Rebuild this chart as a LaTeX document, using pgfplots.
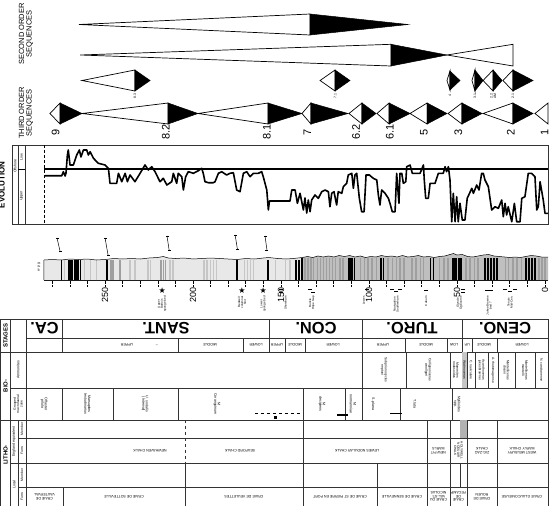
\documentclass[border=0pt]{standalone}
\usepackage{pgfplots}
\pgfplotsset{compat=1.18}
\usepackage{fontspec}
\setmainfont{Liberation Sans}
\newfontfamily\dejavu{DejaVu Sans}
\usetikzlibrary{plotmarks}
\newcommand\fs[1]{\fontsize{#1}{#1}\selectfont}
\pgfplotsset{
  strip/.style={scale only axis, width=504bp, xmin=-1.7, xmax=284.7, x dir=reverse,
    anchor=north west, clip=false},
  opentri/.style={draw=black, fill=white, line width=0.7bp, mark=none},
  filltri/.style={draw=black, fill=black, line width=0.5bp, mark=none},
}
% open triangle (tip #1 -> base #2), filled triangle (base #2 -> tip #3); centre #4, top #5, bottom #6
\newcommand\seqtri[6]{%
  \addplot[opentri] coordinates {(#1,#4) (#2,#5) (#2,#6)} -- cycle;
  \addplot[filltri] coordinates {(#2,#5) (#3,#4) (#2,#6)} -- cycle;}
\begin{document}
\begin{tikzpicture}
\path[use as bounding box] (0,0) rectangle (550bp,-506bp);

% ---------------- sequences ----------------
\begin{axis}[strip, at={(44bp,0bp)}, height=140bp, ymin=0, ymax=140, y dir=reverse, axis lines=none]
% second order
\seqtri{264.8}{133.5}{77.8}{24.5}{14}{35}
\seqtri{264.2}{87.5}{55.7}{55}{44.3}{66}
\addplot[opentri] coordinates {(55.7,55) (18.2,44.3) (18.2,66)} -- cycle;
% minor sequences
\seqtri{263.1}{233.0}{224.4}{80.5}{70}{91}
\seqtri{127.8}{119.3}{110.8}{80.5}{70}{91}
\seqtri{55.7}{54.0}{48.3}{80.5}{71}{90}
\seqtri{41.5}{39.8}{35.2}{80.5}{70}{91}
\seqtri{35.2}{29.5}{24.4}{80.5}{70}{91}
\seqtri{23.9}{18.2}{6.8}{80.5}{70}{91}
% third order
\seqtri{281.3}{275.6}{263.1}{113.5}{103}{124}
\seqtri{263.1}{214.2}{197.2}{113.5}{103}{124}
\seqtri{197.2}{157.4}{138.1}{113.5}{103}{124}
\seqtri{138.1}{133.0}{111.9}{113.5}{103}{124}
\seqtri{111.4}{104.0}{96.0}{113.5}{103}{124}
\seqtri{95.5}{88.6}{76.7}{113.5}{103}{124}
\seqtri{76.7}{67.0}{55.7}{113.5}{103}{124}
\seqtri{55.1}{47.2}{35.8}{113.5}{103}{124}
\seqtri{35.2}{18.2}{6.8}{113.5}{103}{124}
\addplot[opentri] coordinates {(5.7,113.5) (-1.7,103) (-1.7,124)} -- cycle;
% labels
\foreach \d/\t in {278.1/9, 215.5/8.2, 158.1/8.1, 135.1/7, 107.4/6.2, 88.1/6.1, 68.8/5, 49.3/3, 19.5/2, 0.2/1}
  {\edef\tmp{\noexpand\node[rotate=90, font=\noexpand\fs{11}, inner sep=0] at (axis cs:\d,132) {\t};}\tmp}
\foreach \d/\t in {233.0/8.3, 119.3/7.1, 54.0/4, 39.8/3.1, 18.2/2.1}
  {\edef\tmp{\noexpand\node[rotate=90, font=\noexpand\fs{3.5}, inner sep=0] at (axis cs:\d,96) {\t};}\tmp}
\node[rotate=90, font=\fs{3.5}, inner sep=0, align=center] at (axis cs:29.5,96) {2.2\\AM};
\end{axis}

% ---------------- bathymetric curve ----------------
\begin{axis}[strip, at={(44bp,-145bp)}, height=79bp, ymin=0, ymax=79, axis lines=none]
\addplot[black, line width=1.1bp, mark=none] coordinates {(284.7,55) (-1.7,55)};
\addplot[black, line width=1.6bp, line join=round, mark=none] coordinates {
(284.1,48.3) (274.6,48.3) (273.7,52.3) (272.7,48) (272.2,51) (271.4,69) (270.9,74) (269.9,59) (268.0,59) (266.1,69) (264.6,74) (263.7,67) (262.3,74) (260.4,74) (259.5,69) (258.5,72.3) (256.6,65.7) (253.8,60.7) (250.0,59) (248.1,55.7) (247.2,40.7) (243.4,40.7) (242.4,50.7) (240.5,42.3) (238.6,50.7) (237.3,42.3) (235.8,49) (233.0,42.3) (230.1,50.7) (227.3,59) (225.4,54) (223.5,57.3) (221.6,52.3) (218.8,42.3) (216.9,45.7) (214.9,39) (212.1,42.3) (211.2,50.7) (209.3,40.7) (208.4,50.7) (206.4,47.3) (205.5,34) (204.2,47.3) (202.7,52.3) (199.8,50.7) (197.0,53.3) (195.1,55.7) (194.2,50.7) (193.2,42.3) (191.3,41.3) (188.5,41.3) (187.5,42.3) (185.6,50.7) (183.7,52.3) (180.9,49) (179.0,50.7) (177.1,51.3) (175.2,34) (173.3,32.3) (171.4,50.7) (169.5,52.3) (167.6,47.3) (165.7,50.7) (162.9,50.7) (161.0,52.3) (160.1,47.3) (158.1,34) (157.2,14) (156.6,23) (144.9,23) (143.9,34) (142.0,34) (140.7,20.7) (139.2,30.7) (137.3,14) (136.4,26) (135.4,11) (134.5,24) (133.5,12.3) (132.6,24) (130.7,29) (128.8,25.7) (126.9,32.3) (125.0,34) (123.1,32.3) (122.2,17.3) (121.2,30.7) (119.9,32.3) (118.4,19) (117.5,32.3) (115.5,30.7) (114.6,37.3) (112.7,40.7) (111.8,49) (109.8,50.7) (108.9,35.7) (108.0,49) (107.0,50.7) (105.5,25.7) (104.2,12.3) (102.8,12.3) (101.7,49) (99.8,49) (97.6,45.7) (95.6,44) (94.7,29) (93.8,19) (92.8,34) (90.9,30.7) (89.0,25.7) (88.1,20.7) (86.8,12.3) (85.2,12.3) (84.3,50.7) (83.0,20.7) (82.4,50.7) (81.4,50.7) (80.5,40.7) (79.1,42.3) (78.6,57.3) (76.7,59) (75.4,50.7) (71.0,50.7) (69.1,59) (68.6,44) (67.8,25.7) (66.3,25.7) (65.3,40.7) (62.5,40.7) (60.6,50.7) (57.8,50.7) (56.8,57.3) (55.9,52.3) (54.9,57.3) (54.0,44) (53.0,2.3) (52.1,30.7) (51.1,2.3) (50.2,27.3) (49.3,2.3) (48.3,20.7) (47.0,4) (45.5,4) (44.2,25.7) (41.6,35.7) (40.7,30.7) (38.8,39) (37.5,34) (36.0,50.7) (35.1,50.7) (34.1,44) (32.2,37.3) (30.3,14) (28.4,17.3) (26.5,15.7) (24.6,24) (23.7,7.3) (22.7,20.7) (21.8,9) (20.9,17.3) (18.9,2.3) (17.4,20.7) (16.1,2.3) (14.2,2.3) (13.2,25.7) (11.4,27.3) (9.5,50.7) (7.6,50.7) (5.7,47.3) (4.7,14) (3.8,17.3) (2.8,42.3) (1.0,24) (0,10.7) (-1.7,10.7)};
\end{axis}

% ---------------- lithological log and scale ----------------
\begin{axis}[strip, at={(44bp,-236bp)}, height=44bp, ymin=0, ymax=44,
  axis x line*=bottom, axis y line=none, axis line style={-, black, line width=0.6bp},
  xtick={0,10,...,280}, tick align=outside, major tick length=6bp,
  tick style={black, densely dotted, line width=0.7bp},
  xticklabels={0,,,,,50,,,,,100,,,,,150,,,,,200,,,,,250,,,},
  xticklabel style={rotate=90, anchor=east, font=\fs{9}, inner sep=1bp}]
\addplot[fill=gray!18, draw=none, mark=none] coordinates {(284.7,0) (284.7,20) (280,20.5) (275,20) (270,21) (265,20.5) (260,21) (255,20) (250,20.5) (245,21.5) (240,21) (235,21.5) (230,21) (225,22) (220,22.5) (217,23.5) (214,22) (210,21.5) (205,22) (200,21) (195,21.5) (190,22) (185,21.5) (180,21) (175,20.5) (170,21.5) (165,21) (160,22) (157,22.5) (152,21.5) (147,21) (143,21.5) (138,22.5) (138,0)} -- cycle;
\addplot[fill=gray!50, draw=none, mark=none] coordinates {(138,0) (138,22.5) (135,23.5) (132,22.5) (129,24) (126,23) (123,24) (120,23) (117,24.5) (114,23.5) (111,24.5) (108,23) (105,24) (102,22.5) (99,23.5) (96,23) (93,24.5) (90,23.5) (87,24) (84,23) (81,24.5) (78,23) (75,23.5) (72,24.5) (69,23) (66,23.5) (63,22.5) (60,23.5) (57,24) (54,25.5) (52,26.5) (50,25) (47,25.5) (44,23.5) (41,23) (38,24) (35,25) (32,25.5) (29,24) (26,23.5) (23,23) (20,22.5) (17,23) (14,22.5) (11,23.5) (8,24.5) (5,24) (2,23) (-1.7,23) (-1.7,0)} -- cycle;
\addplot[ycomb, gray!45, line width=1.1bp, mark=none] coordinates {(273.3,20) (261.9,20) (258.5,20) (255.1,20) (235.8,20) (233.0,20) (225.6,20) (224.4,20) (213.1,20) (211.4,20) (193.8,20) (192.1,20) (190.3,20) (188.6,20) (186.9,20) (171.0,20) (169.3,20) (167.6,20) (165.9,20) (153.4,20) (147.7,20) (144.9,20)};
\addplot[ycomb, gray!75, line width=1.1bp, mark=none] coordinates {(246.6,20) (245.5,20) (241.5,20) (218.2,20) (217.0,20) (215.9,20) (136.4,22) (134.7,22) (133.0,22) (131.3,22) (129.5,22) (127.8,22) (126.1,22) (124.4,22) (122.7,22) (121.0,22) (118.8,22) (116.5,22) (114.8,22) (105.1,22) (102.8,22) (100.6,22) (98.3,22) (96.0,22) (89.2,22) (86.9,22) (84.6,22) (82.4,22) (80.1,22) (75.6,22) (73.3,22) (71.0,22) (68.8,22) (59.7,22) (57.4,22) (55.1,22) (44.9,22) (42.6,22) (40.3,22) (38.1,22) (22.7,22) (20.5,22) (18.2,22) (15.9,22) (13.6,22) (3.4,22) (1.7,22) (0,22)};
\addplot[ycomb, black, line width=1.1bp, mark=none] coordinates {(275.0,20) (271.0,20) (269.9,20) (268.8,20) (267.6,20) (266.5,20) (265.4,20) (264.2,20) (248.9,20) (175.0,20) (157.4,20) (141.5,20) (139.8,20) (138.1,22) (111.9,22) (110.8,22) (109.7,22) (108.5,22) (93.2,22) (92.0,22) (65.3,22) (63.6,22) (52.8,22) (51.7,22) (50.6,22) (49.4,22) (48.3,22) (47.2,22) (34.1,22) (32.4,22) (30.7,22) (29.0,22) (27.3,22) (10.8,22) (9.1,22) (7.4,22) (5.7,22)};
% weathering profile and left edge
\addplot[black, line width=0.5bp, mark=none] coordinates {(284.7,0) (284.7,20) (280,20.5) (275,20) (270,21) (265,20.5) (260,21) (255,20) (250,20.5) (245,21.5) (240,21) (235,21.5) (230,21) (225,22) (220,22.5) (217,23.5) (214,22) (210,21.5) (205,22) (200,21) (195,21.5) (190,22) (185,21.5) (180,21) (175,20.5) (170,21.5) (165,21) (160,22) (157,22.5) (152,21.5) (147,21) (143,21.5) (138,22.5) (135,23.5) (132,22.5) (129,24) (126,23) (123,24) (120,23) (117,24.5) (114,23.5) (111,24.5) (108,23) (105,24) (102,22.5) (99,23.5) (96,23) (93,24.5) (90,23.5) (87,24) (84,23) (81,24.5) (78,23) (75,23.5) (72,24.5) (69,23) (66,23.5) (63,22.5) (60,23.5) (57,24) (54,25.5) (52,26.5) (50,25) (47,25.5) (44,23.5) (41,23) (38,24) (35,25) (32,25.5) (29,24) (26,23.5) (23,23) (20,22.5) (17,23) (14,22.5) (11,23.5) (8,24.5) (5,24) (2,23) (-1.7,23)};
% dip marks above the log
\addplot[black, line width=0.5bp, mark=-, mark size=1.5bp] coordinates {(277.3,42) (275.6,29)};
\addplot[black, line width=0.5bp, mark=-, mark size=1.5bp] coordinates {(250.0,42) (248.3,25)};
\addplot[black, line width=0.5bp, mark=-, mark size=1.5bp] coordinates {(214.8,44) (213.6,30)};
\addplot[black, line width=0.5bp, mark=-, mark size=1.5bp] coordinates {(176.1,45) (174.8,31)};
\addplot[black, line width=0.5bp, mark=-, mark size=1.5bp] coordinates {(159.1,44) (158.0,30)};
% marker beds
\addplot[only marks, mark=text, text mark={\fs{8}\dejavu ★}] coordinates {(217.6,-11) (172.2,-11) (160.2,-11)};
\addplot[only marks, mark=-, mark size=2bp, black, line width=0.8bp] coordinates {(150.0,-9) (150.0,-12) (133.5,-9) (131.8,-12) (101.1,-9) (86.9,-9) (84.6,-11) (82.4,-9) (67.6,-10) (46.6,-9) (46.6,-12) (33.0,-10) (30.7,-10) (22.7,-9) (19.9,-11) (17.0,-9)};
\node[rotate=90, anchor=east, font=\fs{3}, align=center, inner sep=0] at (axis cs:217.6,-16) {Upper\\Barrois\\sponge bed};
\node[rotate=90, anchor=east, font=\fs{3}, align=center, inner sep=0] at (axis cs:172.2,-16) {Bedwell\\columnar\\flint};
\node[rotate=90, anchor=east, font=\fs{3}, align=center, inner sep=0] at (axis cs:160.2,-16) {Lower\\sponge bed};
\node[rotate=90, anchor=east, font=\fs{3}, align=center, inner sep=0] at (axis cs:147.5,-16) {Shoreham};
\node[rotate=90, anchor=east, font=\fs{3}, align=center, inner sep=0] at (axis cs:132.5,-16) {Buckle\\Hope Gap};
\node[rotate=90, anchor=east, font=\fs{3}, align=center, inner sep=0] at (axis cs:103,-16) {Lewes};
\node[rotate=90, anchor=east, font=\fs{3}, align=center, inner sep=0] at (axis cs:84.6,-16) {Navigation\\Southerham};
\node[rotate=90, anchor=east, font=\fs{3}, align=center, inner sep=0] at (axis cs:67.6,-16) {Caburn};
\node[rotate=90, anchor=east, font=\fs{3}, align=center, inner sep=0] at (axis cs:48.5,-16) {Glynde\\Ogbourne};
\node[rotate=90, anchor=east, font=\fs{3}, align=center, inner sep=0] at (axis cs:31.8,-16) {Jukes-Browne\\bed 7};
\node[rotate=90, anchor=east, font=\fs{3}, align=center, inner sep=0] at (axis cs:19.9,-16) {Tenuis\\Mid-Cen.};
\end{axis}

% ---------------- frames and table ----------------
\begin{scope}[x=1bp, y=-1bp, line width=0.6bp]
% left labels of the upper part
\node[rotate=90, font=\fs{7.5}, align=center, inner sep=0] at (26,34) {SECOND ORDER\\SEQUENCES};
\node[rotate=90, font=\fs{7.5}, align=center, inner sep=0] at (26,113) {THIRD ORDER\\SEQUENCES};
\node[rotate=90, font=\fs{8}\bfseries, inner sep=0] at (2,185) {EVOLUTION};
% curve panel frame
\draw[black!80] (12,145) rectangle (548,224);
\draw[black!80] (18,145) -- (18,224) (25,145) -- (25,224);
\draw[black, densely dashed, line width=0.8bp] (44,145) -- (44,224);
\draw[black] (18,169) -- (25,169);
\node[rotate=90, font=\fs{3.6}, inner sep=0] at (15,166) {Offshore};
\node[rotate=90, font=\fs{3.6}, inner sep=0] at (21.5,157) {Low.};
\node[rotate=90, font=\fs{3.6}, inner sep=0] at (21.5,196) {Upper};
\node[rotate=90, font=\fs{3.5}, inner sep=0] at (39,267) {w\,\,p\,\,g};
% table grid
\draw[black!80] (0.5,319) rectangle (548,506);
\draw[black!80] (0.5,352) -- (548,352) (26,338) -- (548,338) (10,388) -- (548,388)
  (0.5,420) -- (548,420) (10,463) -- (548,463) (18,438) -- (548,438) (18,487) -- (548,487);
\draw[black!80] (10,319) -- (10,506) (26,319) -- (26,506) (18,420) -- (18,506);
\foreach \x in {62,269,362,462} \draw[black!80] (\x,319) -- (\x,338);
\foreach \x in {62,178,243,269,285,305,362,405,447,462,472,497} \draw[black!80] (\x,338) -- (\x,352);
\foreach \x in {362,406,450,462,467,475,488,498,515,535} \draw[black!80] (\x,352) -- (\x,388);
\foreach \x in {62,113,178,303,345,362,400,452} \draw[black!80] (\x,388) -- (\x,420);
\draw[black!80, dashed] (185,420) -- (185,463);
\foreach \x in {303,427,450,460,467,497} \draw[black!80] (\x,420) -- (\x,438);
\foreach \x in {303,427,450,467,497} \draw[black!80] (\x,438) -- (\x,463);
\foreach \x in {185,303,377,427,450,460,467,497} \draw[black!80] (\x,463) -- (\x,487);
\foreach \x in {63,185,303,377,427,450,467,497} \draw[black!80] (\x,487) -- (\x,506);
\fill[gray!60] (460.3,420.3) rectangle (466.7,437.7);
\fill[gray!45] (462.3,352.3) rectangle (466.7,387.7);
\draw[black, dashed, line width=1bp] (255,413) -- (300,413);
\draw[black, line width=1.6bp] (337,415) -- (348,415);
\draw[black, line width=1pt] (390,413) -- (402,413);
\fill[black] (274,415.5) rectangle (277,418.5);
% header column
\node[rotate=90, font=\fs{6}\bfseries, inner sep=0] at (5.5,335.5) {STAGES};
\node[rotate=90, font=\fs{6}\bfseries, inner sep=0] at (5.5,386) {BIO-};
\node[rotate=90, font=\fs{6}\bfseries, inner sep=0] at (5.5,455) {LITHO-};
\node[rotate=90, font=\fs{3.6}, inner sep=0] at (18,370) {Ammonites};
\node[rotate=90, font=\fs{3.4}, align=center, inner sep=0] at (18,404) {Grouped\\macrofaunal\\zone};
\node[rotate=90, font=\fs{3.6}, inner sep=0] at (14,441.5) {England equivalent};
\node[rotate=90, font=\fs{3.6}, inner sep=0] at (14,484.5) {Local};
\node[rotate=90, font=\fs{3.4}, inner sep=0] at (22,429) {Member};
\node[rotate=90, font=\fs{3.4}, inner sep=0] at (22,450.5) {Form.};
\node[rotate=90, font=\fs{3.4}, inner sep=0] at (22,475) {Member};
\node[rotate=90, font=\fs{3.4}, inner sep=0] at (22,496.5) {Form.};
% stages
\foreach \x/\t in {44.5/CA., 166/SANT., 316/CON., 412/TURO., 505/CENO.}
  \node[rotate=180, font=\fs{16.5}\bfseries, inner sep=0] at (\x,328.5) {\t};
\foreach \x/\t in {127/UPPER, 157/--, 210/MIDDLE, 256/LOWER, 277/UPPER, 295/MIDDLE, 333/LOWER, 383/UPPER, 426/MIDDLE, 454/LOW, 467/UP., 484/MIDDLE, 522/LOWER}
  \node[rotate=180, font=\fs{3.6}, inner sep=0] at (\x,345) {\t};
% ammonites
\foreach \x/\t in {384/{Subprionocyclus\\neptuni}, 428/{Collignoniceras\\woollgari}, 456/{Mammites\\nodosoides}, 464.5/{Watinoceras}, 471/{C. naviculare}, 481.5/{Acanthoceras\\jukesbrownei}, 493/{A. rhotomagense}, 506.5/{Mantelliceras\\dixoni}, 525/{Mantelliceras\\mantelli}, 541.5/{N. carcitanense}}
  \node[rotate=-90, font=\fs{3.4}, align=center, inner sep=0] at (\x,370) {\t};
% biozones
\foreach \x/\t in {44/{Offaster\\pilula}, 87.5/{Marsupites\\testudinarius}, 145/{U. socialis\\(Interval)}, 217/{M.\\Coranguinum}, 322/{M.\\decipiens}, 353/{M.\\normanniae}, 373/{S.plana}, 415/{T.lata}, 457/{Mytiloides\\spp.}}
  \node[rotate=-90, font=\fs{3.6}, align=center, inner sep=0] at (\x,404) {\t};
% England formations
\foreach \x/\t in {150/{NEWHAVEN CHALK}, 240/{SEAFORD CHALK}, 357/{LEWES NODULAR CHALK}, 438.5/{NEW PIT\\MARLS}, 482/{ZIG-ZAG\\CHALK}, 522/{WEST MELBURY\\MARLY CHALK}}
  \node[rotate=180, font=\fs{3.6}, align=center, inner sep=0] at (\x,450.5) {\t};
\node[rotate=-90, font=\fs{3.2}, align=center, inner sep=0] at (458.5,450.5) {HOLYWELL\\NODULAR\\CHALK};
% local formations
\foreach \x/\t in {44.5/{CRAIE DE\\VAUTERVAL}, 124/{CRAIE DE SOTTEVILLE}, 244/{CRAIE DE VEULETTES}, 340/{CRAIE DE ST PIERRE EN PORT}, 402/{CRAIE DE SENNEVILLE}, 438.5/{CRAIE DU\\VAL-ST-\\NICOLAS}, 458.5/{CRAIE\\DE\\FECAMP}, 482/{CRAIE DE\\ROUEN}, 522/{CRAIE GLAUCONIEUSE}}
  \node[rotate=180, font=\fs{3.6}, align=center, inner sep=0] at (\x,496.5) {\t};
\end{scope}
\end{tikzpicture}
\end{document}
